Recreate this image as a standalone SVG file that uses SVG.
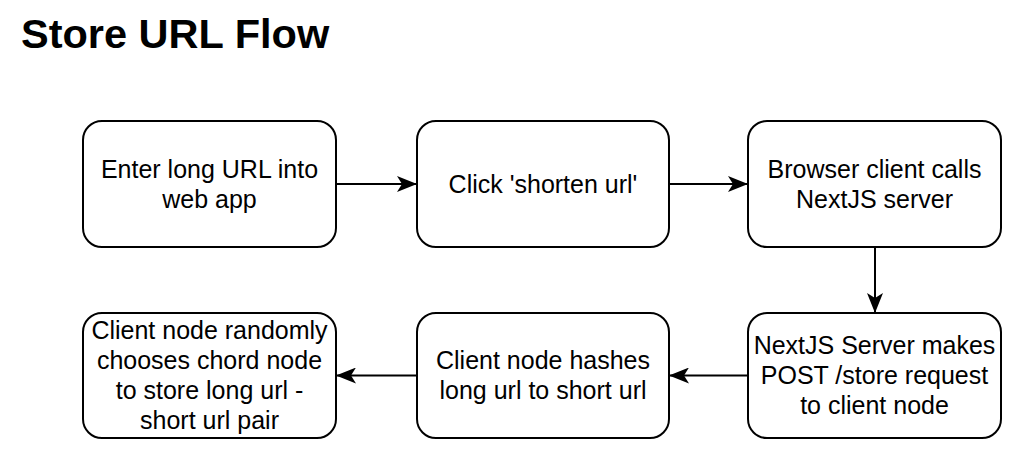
<svg xmlns="http://www.w3.org/2000/svg" width="1020" height="462" viewBox="0 0 1020 462">
<style>
.box{fill:#fff;stroke:#000;stroke-width:2}
.t{font-family:"Liberation Sans",Arial,sans-serif;font-size:25px;fill:#000;text-anchor:middle}
.title{font-family:"Liberation Sans",Arial,sans-serif;font-size:41.5px;font-weight:bold;fill:#000}
.edge{fill:none;stroke:#000;stroke-width:2}
</style>
<defs>
<marker id="arr" viewBox="0 0 20 16" refX="19" refY="8" markerWidth="20" markerHeight="16" markerUnits="userSpaceOnUse" orient="auto">
<path d="M0,0 L20,8 L0,16 L5,8 Z" fill="#000"/>
</marker>
</defs>
<rect width="1020" height="462" fill="#fff"/>
<text class="title" x="21" y="48">Store URL Flow</text>
<g id="connectors">
<path class="edge" d="M336,184 H416" marker-end="url(#arr)"/>
<path class="edge" d="M669,184 H747" marker-end="url(#arr)"/>
<path class="edge" d="M875,247 V312" marker-end="url(#arr)"/>
<path class="edge" d="M748,375.5 H670" marker-end="url(#arr)"/>
<path class="edge" d="M417,375.5 H337" marker-end="url(#arr)"/>
</g>
<g id="n1"><rect class="box" x="83" y="121" width="253" height="126" rx="19"/>
<text class="t" x="209.5" y="178">Enter long URL into</text><text class="t" x="209.5" y="208">web app</text></g>
<g id="n2"><rect class="box" x="417" y="121" width="252" height="126" rx="19"/>
<text class="t" x="543" y="193">Click 'shorten url'</text></g>
<g id="n3"><rect class="box" x="748" y="121" width="253" height="126" rx="19"/>
<text class="t" x="874.5" y="178">Browser client calls</text><text class="t" x="874.5" y="208">NextJS server</text></g>
<g id="n4"><rect class="box" x="748" y="313" width="253" height="125" rx="19"/>
<text class="t" x="874.5" y="354">NextJS Server makes</text><text class="t" x="874.5" y="384">POST /store request</text><text class="t" x="874.5" y="414">to client node</text></g>
<g id="n5"><rect class="box" x="417" y="313" width="252" height="125" rx="19"/>
<text class="t" x="543" y="369">Client node hashes</text><text class="t" x="543" y="399">long url to short url</text></g>
<g id="n6"><rect class="box" x="83" y="313" width="253" height="125" rx="19"/>
<text class="t" x="209.5" y="339">Client node randomly</text><text class="t" x="209.5" y="369">chooses chord node</text><text class="t" x="209.5" y="399">to store long url -</text><text class="t" x="209.5" y="429">short url pair</text></g>
</svg>
